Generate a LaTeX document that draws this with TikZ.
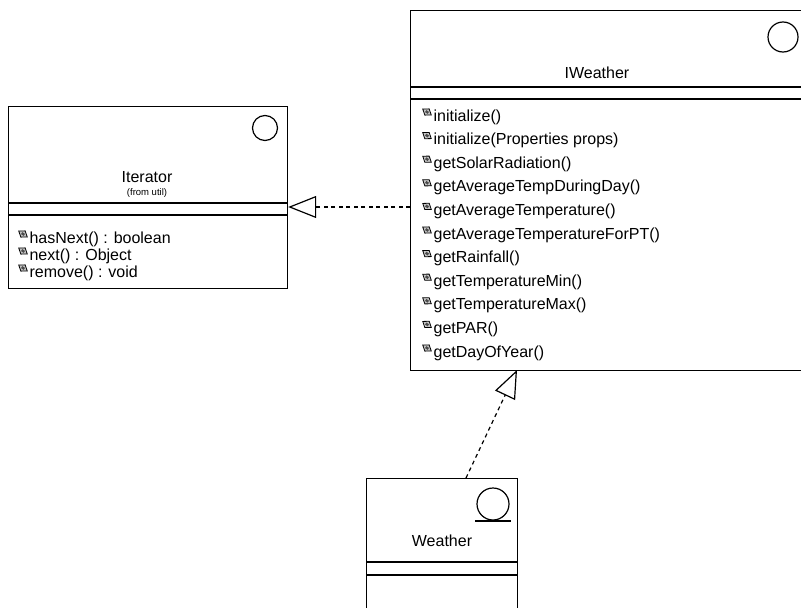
\documentclass[tikz,border=0pt]{standalone}
\usepackage{fontspec}
\setmainfont{Liberation Sans}
\usetikzlibrary{arrows.meta}
\begin{document}
\begin{tikzpicture}[x=1pt,y=-1pt,line width=1.2pt,
  box/.style={draw,line width=1.2pt,inner sep=0pt,anchor=north west},
  meth/.style={anchor=west,font=\fontsize{16}{16}\selectfont,inner sep=0pt},
  title/.style={font=\fontsize{16}{16}\selectfont,inner sep=0pt},
  real/.style={dash pattern=on 4pt off 3.5pt,-{Triangle[open,length=28pt,width=22pt,line width=1.2pt]}},
  opicon/.pic={\draw[line width=0.8pt,fill=gray!45,rotate=-35] (0,-3.8)--(5.2,0)--(0,3.8)--(-5.2,0)--cycle;
               \fill[black!70,rotate=-35] (-1.6,-1.2) rectangle (1.6,1.2);}
]
\useasboundingbox (0,0) rectangle (801,608);

% Iterator
\node[box,minimum width=279pt,minimum height=182pt] (iter) at (8,106) {};
\draw (8,203) -- (287,203);
\draw (8,215) -- (287,215);
\draw (265,128) circle[radius=12.5pt];
\node[title] (itname) at (147,177) {Iterator};
\node[font=\fontsize{9.5}{9.5}\selectfont,inner sep=0pt] (itfrom) at (147,193) {(from util)};
\foreach \t [count=\i from 0] in {hasNext() : boolean,next() : Object,remove() : void}{
  \pic at (23,239+17*\i-5) {opicon};
  \node[meth] (im\i) at (29,239+17*\i) {\t};
}

% IWeather
\node[box,minimum width=396pt,minimum height=360pt] (iw) at (410,10) {};
\draw (410,87) -- (806,87);
\draw (410,99) -- (806,99);
\draw (783,37) circle[radius=15pt];
\node[title] (iwname) at (597,73) {IWeather};
\foreach \t [count=\i from 0] in {initialize(),initialize(Properties props),getSolarRadiation(),getAverageTempDuringDay(),getAverageTemperature(),getAverageTemperatureForPT(),getRainfall(),getTemperatureMin(),getTemperatureMax(),getPAR(),getDayOfYear()}{
  \pic at (427,117+23.6*\i-5) {opicon};
  \node[meth] (wm\i) at (433,117+23.6*\i) {\t};
}

% Weather
\node[box,minimum width=151pt,minimum height=140pt] (we) at (366,478) {};
\draw (366,562) -- (517,562);
\draw (366,575) -- (517,575);
\draw (493,504) circle[radius=16pt];
\draw (475,521) -- (511,521);
\node[title] (wename) at (442,541) {Weather};

% realizations
\coordinate (r1s) at (410,207);
\draw[real] (r1s) -- (iter.east |- r1s);
\coordinate (r2s) at (466,478);
\coordinate (r2e) at (517,370);
\draw[real] (r2s) -- (r2e);
\end{tikzpicture}
\end{document}
